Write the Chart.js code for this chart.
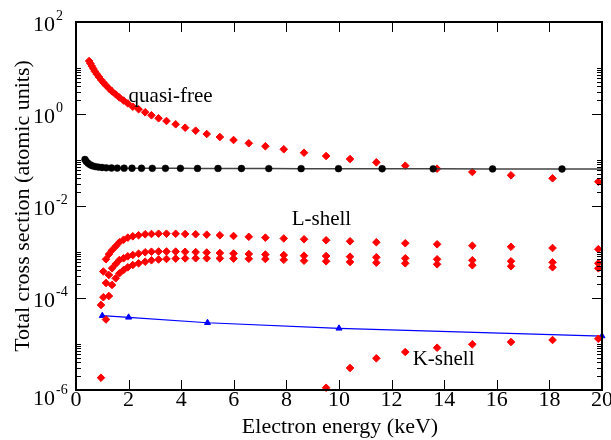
<!DOCTYPE html>
<html>
<head>
<meta charset="utf-8">
<script src="https://cdn.jsdelivr.net/npm/chart.js@4.4.1/dist/chart.umd.min.js"></script>
<style>
  html, body { margin: 0; padding: 0; background: #fff; }
  #plot { display: block; }
</style>
</head>
<body>
<canvas id="plot" width="611" height="440"></canvas>
<script>
// energy grid (keV) shared by the red diamond curves
const energyGrid = [0.50, 0.548, 0.60, 0.66, 0.72, 0.79, 0.87, 0.95, 1.04, 1.14,
  1.25, 1.37, 1.51, 1.65, 1.81, 1.97, 2.16, 2.38, 2.63, 2.87,
  3.14, 3.44, 3.79, 4.15, 4.55, 4.97, 5.47, 5.99, 6.57, 7.20,
  7.90, 8.67, 9.51, 10.42, 11.42, 12.52, 13.73, 15.07, 16.54, 18.12, 19.86];

const quasiFree = [14.2, 12.5, 11.0, 9.64, 8.43, 7.36, 6.41, 5.57, 4.83, 4.18,
  3.61, 3.10, 2.67, 2.29, 1.96, 1.70, 1.44, 1.27, 1.09, 0.937,
  0.807, 0.705, 0.597, 0.504, 0.434, 0.367, 0.316, 0.272, 0.231, 0.199,
  0.171, 0.144, 0.122, 0.105, 0.089, 0.0752, 0.0647, 0.0548, 0.0464, 0.040, 0.0337];

const lShellA = [null, null, null, null, null, null, null, 7.05e-5, 3.77e-4, 6.94e-4,
  8.91e-4, 1.09e-3, 1.33e-3, 1.63e-3, 1.85e-3, 2.05e-3, 2.19e-3, 2.31e-3, 2.43e-3, 2.46e-3,
  2.50e-3, 2.50e-3, 2.49e-3, 2.46e-3, 2.43e-3, 2.38e-3, 2.31e-3, 2.23e-3, 2.14e-3, 2.05e-3,
  1.97e-3, 1.89e-3, 1.80e-3, 1.71e-3, 1.63e-3, 1.55e-3, 1.47e-3, 1.37e-3, 1.30e-3, 1.22e-3, 1.15e-3];

const lShellB = [null, null, null, null, null, null, null, null, 1.04e-4, 2.12e-4,
  3.16e-4, 4.42e-4, 5.48e-4, 6.70e-4, 7.30e-4, 8.07e-4, 8.61e-4, 9.19e-4, 9.85e-4, 1.016e-3,
  1.026e-3, 1.026e-3, 1.021e-3, 1.01e-3, 9.95e-4, 9.75e-4, 9.51e-4, 9.27e-4, 9.05e-4, 8.83e-4,
  8.57e-4, 8.31e-4, 8.18e-4, 7.91e-4, 7.67e-4, 7.30e-4, 6.94e-4, 6.61e-4, 6.28e-4, 5.97e-4, 5.68e-4];

const lShellC = [null, null, null, null, null, null, null, null, null, 3.41e-5,
  1.105e-4, 1.92e-4, 2.68e-4, 3.44e-4, 4.06e-4, 4.65e-4, 5.21e-4, 5.68e-4, 6.15e-4, 6.60e-4,
  6.87e-4, 7.05e-4, 7.19e-4, 7.26e-4, 7.30e-4, 7.30e-4, 7.26e-4, 7.19e-4, 7.11e-4, 7.05e-4,
  6.76e-4, 6.47e-4, 6.28e-4, 6.07e-4, 5.86e-4, 5.68e-4, 5.40e-4, 5.14e-4, 4.89e-4, 4.65e-4, 4.42e-4];

const kShell = [null, null, null, null, null, null, null, 1.85e-6, null, null,
  null, null, null, null, null, null, null, null, null, null,
  null, null, null, null, null, null, null, null, null, null,
  null, null, 1.12e-6, 3.01e-6, 4.89e-6, 6.70e-6, 8.31e-6, 9.85e-6, 1.105e-5, 1.22e-5, 1.30e-5];

// black curve (own grid)
const totalEnergy = [0.34, 0.39, 0.46, 0.54, 0.62, 0.73, 0.85, 0.99, 1.15, 1.35,
  1.57, 1.83, 2.13, 2.49, 2.90, 3.40, 3.97, 4.62, 5.40, 6.29,
  7.33, 8.56, 9.98, 11.64, 13.58, 15.84, 18.48, 21.55];
const totalValues = [0.1026, 0.0927, 0.0848, 0.0787, 0.0748, 0.0719, 0.0701, 0.0687, 0.0677, 0.0670,
  0.0667, 0.0663, 0.0662, 0.0661, 0.0660, 0.0659, 0.0658, 0.0656, 0.0655, 0.0653,
  0.0651, 0.0649, 0.0647, 0.0645, 0.0643, 0.0641, 0.0638, 0.0636];

// blue K-shell line
const kFitEnergy = [1, 2, 5, 10, 20];
const kFitValues = [4.12e-5, 3.80e-5, 2.90e-5, 2.19e-5, 1.49e-5];

const xTicks = [0, 2, 4, 6, 8, 10, 12, 14, 16, 18, 20];
const yTickExponents = [2, 0, -2, -4, -6];

const labels = ['quasi-free', 'L-shell', 'K-shell'];
const labelX = [2.0, 8.2, 12.8];
const labelY = [2.46, 5.0e-3, 4.5e-6];

const FONT = "'Liberation Serif', 'Times New Roman', serif";

function pts(xs, ys) {
  const out = [];
  xs.forEach((x, i) => { if (ys[i] != null) out.push({x: x, y: ys[i]}); });
  return out;
}

function diamonds(data) {
  return {
    data: data,
    showLine: false,
    pointStyle: 'rectRot',
    pointRadius: 3.8,
    pointBorderWidth: 1,
    backgroundColor: '#ff0000',
    borderColor: '#ff0000',
    clip: false
  };
}

// frame, inward ticks, tick labels, axis title and text notes
const decorations = {
  id: 'decorations',
  afterDatasetsDraw(chart) {
    const {ctx, chartArea: a, scales: {x, y}} = chart;
    ctx.save();
    ctx.strokeStyle = '#000';
    ctx.lineWidth = 1;
    ctx.beginPath();
    xTicks.forEach(v => {
      const px = Math.round(x.getPixelForValue(v)) + 0.5;
      ctx.moveTo(px, a.bottom); ctx.lineTo(px, a.bottom - 10);
      ctx.moveTo(px, a.top); ctx.lineTo(px, a.top + 10);
    });
    yTickExponents.forEach(e => {
      const py = Math.round(y.getPixelForValue(Math.pow(10, e))) + 0.5;
      ctx.moveTo(a.left, py); ctx.lineTo(a.left + 10, py);
      ctx.moveTo(a.right, py); ctx.lineTo(a.right - 10, py);
    });
    // minor ticks on every other decade
    [0, -2, -4, -6].forEach(e => {
      for (let k = 2; k <= 10; k++) {
        const py = Math.round(y.getPixelForValue(k * Math.pow(10, e))) + 0.5;
        ctx.moveTo(a.left, py); ctx.lineTo(a.left + 5, py);
        ctx.moveTo(a.right, py); ctx.lineTo(a.right - 5, py);
      }
    });
    ctx.stroke();

    ctx.lineWidth = 2;
    ctx.strokeRect(a.left, a.top, a.right - a.left, a.bottom - a.top);

    ctx.fillStyle = '#000';
    ctx.textBaseline = 'middle';
    yTickExponents.forEach(e => {
      // lowest label sits a bit lower, level with the x labels
      const py = y.getPixelForValue(Math.pow(10, e)) + (e === -6 ? 9 : 3);
      ctx.font = '22px ' + FONT;
      ctx.textAlign = 'right';
      ctx.fillText('10', 55, py);
      ctx.font = '14px ' + FONT;
      ctx.textAlign = 'left';
      ctx.fillText(e < 0 ? '-' + (-e) : String(e), 56, py - 9);
    });

    ctx.font = '22px ' + FONT;
    ctx.textAlign = 'center';
    xTicks.forEach(v => {
      ctx.fillText(String(v), x.getPixelForValue(v), a.bottom + 10);
    });
    ctx.fillText('Electron energy (keV)', (a.left + a.right) / 2 + 1, a.bottom + 37);

    ctx.font = '21px ' + FONT;
    ctx.textAlign = 'left';
    labels.forEach((t, i) => {
      ctx.fillText(t, x.getPixelForValue(labelX[i]), y.getPixelForValue(labelY[i]));
    });
    ctx.restore();
  }
};

new Chart(document.getElementById('plot'), {
  type: 'scatter',
  data: {
    datasets: [
      {
        data: pts(totalEnergy, totalValues),
        showLine: true,
        borderColor: '#444',
        borderWidth: 1.5,
        pointStyle: 'circle',
        pointRadius: 3.4,
        pointBorderWidth: 0.5,
        pointBackgroundColor: '#000',
        pointBorderColor: '#000'
      },
      diamonds(pts(energyGrid, quasiFree)),
      diamonds(pts(energyGrid, lShellA)),
      diamonds(pts(energyGrid, lShellB)),
      diamonds(pts(energyGrid, lShellC)),
      diamonds(pts(energyGrid, kShell)),
      {
        data: pts(kFitEnergy, kFitValues),
        showLine: true,
        borderColor: '#0000ff',
        borderWidth: 1.2,
        pointStyle: 'triangle',
        pointRadius: 3.5,
        pointBorderWidth: 1,
        pointBackgroundColor: '#0000ff',
        pointBorderColor: '#0000ff',
        clip: false
      }
    ]
  },
  options: {
    responsive: false,
    animation: false,
    devicePixelRatio: 1,
    layout: { padding: { top: 22, right: 9, left: 0, bottom: 0 } },
    plugins: { legend: { display: false }, tooltip: { enabled: false } },
    scales: {
      x: {
        type: 'linear',
        min: 0,
        max: 20,
        grid: { display: false, drawTicks: false },
        border: { display: false },
        ticks: { display: false, stepSize: 2 },
        afterFit(s) { s.height = 50; s.paddingLeft = 0; s.paddingRight = 0; }
      },
      y: {
        type: 'logarithmic',
        min: 1e-6,
        max: 100,
        grid: { display: false },
        border: { display: false },
        ticks: { display: false },
        title: {
          display: true,
          text: 'Total cross section (atomic units)',
          color: '#000',
          font: { family: FONT, size: 22 },
          padding: { top: 10, bottom: 0 }
        },
        afterFit(s) { s.width = 76; s.paddingTop = 0; s.paddingBottom = 0; }
      }
    }
  },
  plugins: [decorations]
});
</script>
</body>
</html>
